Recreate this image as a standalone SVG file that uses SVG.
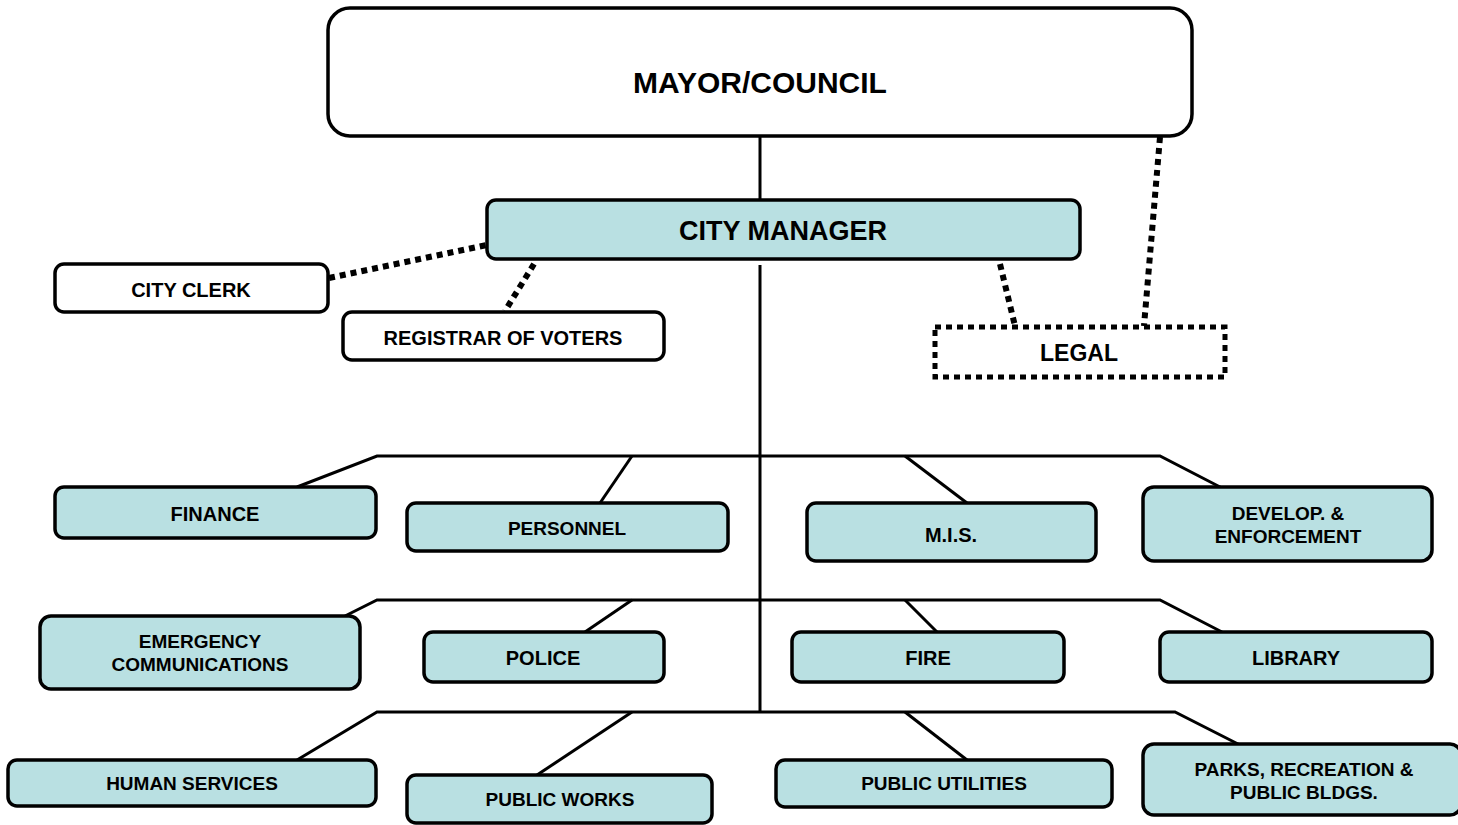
<svg xmlns="http://www.w3.org/2000/svg" width="1458" height="825" viewBox="0 0 1458 825">
  <style>
    .box { fill: #b9e0e2; stroke: #000; stroke-width: 3.5; }
    .plain { fill: #fff; stroke: #000; stroke-width: 3.5; }
    .dash { fill: #fff; stroke: #000; stroke-width: 5; stroke-dasharray: 6 5; }
    .solid { fill: none; stroke: #000; stroke-width: 3; }
    .dot { fill: none; stroke: #000; stroke-width: 6; stroke-dasharray: 6 5; }
    text { font-family: "Liberation Sans", Arial, sans-serif; font-weight: bold; fill: #000; text-anchor: middle; dominant-baseline: central; }
    .t20 { font-size: 20px; }
    .t19 { font-size: 19px; }
  </style>
  <rect width="1458" height="825" fill="#fff"/>

  <!-- connectors -->
  <g id="connectors">
    <line class="solid" x1="760" y1="136" x2="760" y2="200"/>
    <line class="solid" x1="760" y1="265" x2="760" y2="712"/>
    <!-- staff links -->
    <line class="dot" x1="329" y1="278" x2="487" y2="245"/>
    <line class="dot" x1="534" y1="264" x2="505" y2="311"/>
    <line class="dot" x1="1000" y1="264" x2="1015" y2="326"/>
    <line class="dot" x1="1160" y1="137" x2="1144" y2="326"/>
    <!-- first tier -->
    <polyline class="solid" points="297,487 377,456 1160,456 1222,488"/>
    <line class="solid" x1="632" y1="456" x2="600" y2="503"/>
    <line class="solid" x1="905" y1="456" x2="967" y2="503"/>
    <!-- second tier -->
    <polyline class="solid" points="345,616 377,600 1160,600 1222,632"/>
    <line class="solid" x1="632" y1="600" x2="585" y2="632"/>
    <line class="solid" x1="905" y1="600" x2="937" y2="632"/>
    <!-- third tier -->
    <polyline class="solid" points="297,760 377,712 1175,712 1240,745"/>
    <line class="solid" x1="632" y1="712" x2="537" y2="775"/>
    <line class="solid" x1="905" y1="712" x2="967" y2="760"/>
  </g>

  <g id="mayor-council">
    <rect class="plain" x="328" y="8" width="864" height="128" rx="22" stroke-width="4"/>
    <text x="760" y="82" style="font-size:30px">MAYOR/COUNCIL</text>
  </g>
  <g id="city-manager">
    <rect class="box" x="487" y="200" width="593" height="59" rx="9"/>
    <text x="783" y="231" style="font-size:27px">CITY MANAGER</text>
  </g>
  <g id="city-clerk">
    <rect class="plain" x="55" y="264" width="273" height="48" rx="9"/>
    <text class="t20" x="191" y="290">CITY CLERK</text>
  </g>
  <g id="registrar">
    <rect class="plain" x="343" y="312" width="321" height="48" rx="9"/>
    <text class="t20" x="503" y="338">REGISTRAR OF VOTERS</text>
  </g>
  <g id="legal">
    <rect class="dash" x="935" y="327" width="290" height="50"/>
    <text x="1079" y="353" style="font-size:23px">LEGAL</text>
  </g>

  <g id="finance">
    <rect class="box" x="55" y="487" width="321" height="51" rx="9"/>
    <text class="t20" x="215" y="514">FINANCE</text>
  </g>
  <g id="personnel">
    <rect class="box" x="407" y="503" width="321" height="48" rx="9"/>
    <text class="t19" x="567" y="528">PERSONNEL</text>
  </g>
  <g id="mis">
    <rect class="box" x="807" y="503" width="289" height="58" rx="9"/>
    <text class="t20" x="951" y="535">M.I.S.</text>
  </g>
  <g id="develop-enforcement">
    <rect class="box" x="1143" y="487" width="289" height="74" rx="11"/>
    <text class="t19" x="1288" y="513">DEVELOP. &amp;</text>
    <text class="t19" x="1288" y="536">ENFORCEMENT</text>
  </g>

  <g id="emergency-communications">
    <rect class="box" x="40" y="616" width="320" height="73" rx="11"/>
    <text class="t19" x="200" y="641">EMERGENCY</text>
    <text class="t19" x="200" y="664">COMMUNICATIONS</text>
  </g>
  <g id="police">
    <rect class="box" x="424" y="632" width="240" height="50" rx="9"/>
    <text class="t20" x="543" y="658">POLICE</text>
  </g>
  <g id="fire">
    <rect class="box" x="792" y="632" width="272" height="50" rx="9"/>
    <text class="t20" x="928" y="658">FIRE</text>
  </g>
  <g id="library">
    <rect class="box" x="1160" y="632" width="272" height="50" rx="9"/>
    <text class="t20" x="1296" y="658">LIBRARY</text>
  </g>

  <g id="human-services">
    <rect class="box" x="8" y="760" width="368" height="46" rx="9"/>
    <text class="t19" x="192" y="783">HUMAN SERVICES</text>
  </g>
  <g id="public-works">
    <rect class="box" x="407" y="775" width="305" height="48" rx="9"/>
    <text class="t19" x="560" y="799">PUBLIC WORKS</text>
  </g>
  <g id="public-utilities">
    <rect class="box" x="776" y="760" width="336" height="47" rx="9"/>
    <text class="t19" x="944" y="783">PUBLIC UTILITIES</text>
  </g>
  <g id="parks-recreation">
    <rect class="box" x="1143" y="744" width="318" height="71" rx="11"/>
    <text class="t19" x="1304" y="769">PARKS, RECREATION &amp;</text>
    <text class="t19" x="1304" y="792">PUBLIC BLDGS.</text>
  </g>
</svg>
